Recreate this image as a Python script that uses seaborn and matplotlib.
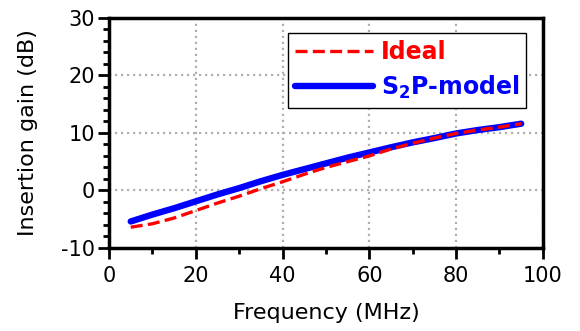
import numpy as np
import pandas as pd
import matplotlib
matplotlib.use("Agg")
import matplotlib.pyplot as plt
import seaborn as sns
from matplotlib.ticker import MultipleLocator

freq = [5, 10, 15, 20, 25, 30, 35, 40, 45, 50, 55, 60, 65, 70, 75, 80, 85, 90, 95]
ideal = [-6.4, -5.8, -4.8, -3.5, -2.2, -1.0, 0.3, 1.5, 2.8, 4.0, 5.0, 6.0, 7.2, 8.2, 9.1, 9.9, 10.5, 11.0, 11.6]
s2p = [-5.4, -4.2, -3.1, -1.9, -0.7, 0.4, 1.6, 2.7, 3.7, 4.7, 5.7, 6.6, 7.5, 8.35, 9.1, 9.9, 10.5, 11.0, 11.6]

sns.set_theme(style="white")
plt.rcParams['font.family'] = ['DejaVu Sans']
plt.rcParams['mathtext.fontset'] = 'dejavusans'
plt.rcParams['axes.unicode_minus'] = False

fig = plt.figure(figsize=(5.8, 3.31), dpi=100)
ax = fig.add_axes([0.188, 0.251, 0.748, 0.695])

df = pd.DataFrame({"freq": freq, "Ideal": ideal, "S2P": s2p})
sns.lineplot(data=df, x="freq", y="S2P", ax=ax, color="#0000ff", lw=4.6,
             label=r"S$_\mathbf{2}$P-model", zorder=3)
sns.lineplot(data=df, x="freq", y="Ideal", ax=ax, color="#ff0000", lw=2.4,
             linestyle=(0, (3.6, 1.6)), label="Ideal", zorder=4)

ax.set_xlim(0, 100)
ax.set_ylim(-10, 30)
ax.xaxis.set_major_locator(MultipleLocator(20))
ax.xaxis.set_minor_locator(MultipleLocator(10))
ax.yaxis.set_major_locator(MultipleLocator(10))
ax.yaxis.set_minor_locator(MultipleLocator(2))
ax.tick_params(axis='both', which='major', direction='out', length=8, width=2,
               labelsize=15, color='black', labelcolor='black', pad=2,
               bottom=True, left=True)
ax.tick_params(axis='x', which='major', pad=5)
ax.tick_params(axis='both', which='minor', direction='out', length=4.5, width=2,
               color='black', bottom=True, left=True)
for s in ax.spines.values():
    s.set_linewidth(2.5)
    s.set_color('black')
    s.set_visible(True)
ax.grid(True, which='major', color='#b0b0b0', linestyle=(0, (1, 1.7)), linewidth=1.6)
ax.set_xlabel("Frequency (MHz)", fontsize=16, color='black', labelpad=12)
ax.set_ylabel("Insertion gain (dB)", fontsize=16, color='black', labelpad=17)

handles, labels = ax.get_legend_handles_labels()
order = [1, 0]
leg = ax.legend([handles[i] for i in order], [labels[i] for i in order],
                loc='upper right', bbox_to_anchor=(0.962, 0.935), frameon=True,
                fancybox=False, edgecolor='black', framealpha=1,
                prop={'weight': 'bold', 'size': 17}, handlelength=3.3,
                handletextpad=0.35, borderpad=0.3, labelspacing=0.4,
                borderaxespad=0)
leg.get_frame().set_linewidth(1)
for t, c in zip(leg.get_texts(), ['#ff0000', '#0000ff']):
    t.set_color(c)

fig.savefig("out.png", dpi=100)
